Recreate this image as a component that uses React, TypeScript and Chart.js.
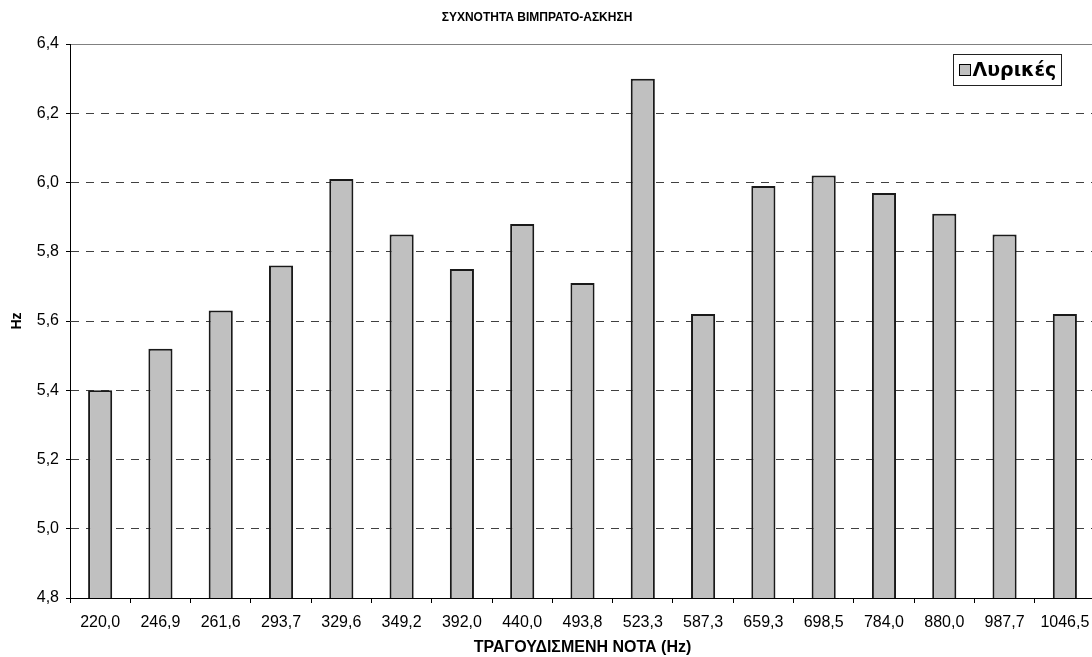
import React, { useEffect, useRef } from 'react';
import { Chart, registerables } from 'chart.js';

Chart.register(...registerables);

// Vibrato rate per sung note (exercise)
const CHART_TITLE = 'ΣΥΧΝΟΤΗΤΑ ΒΙΜΠΡΑΤΟ-ΑΣΚΗΣΗ';
const X_TITLE = 'ΤΡΑΓΟΥΔΙΣΜΕΝΗ ΝΟΤΑ (Hz)';
const Y_TITLE = 'Hz';
const SERIES_NAME = 'Λυρικές';

const NOTES = [
  '220,0', '246,9', '261,6', '293,7', '329,6', '349,2', '392,0', '440,0', '493,8',
  '523,3', '587,3', '659,3', '698,5', '784,0', '880,0', '987,7', '1046,5',
];
const VIBRATO_RATE = [
  5.40, 5.52, 5.63, 5.76, 6.01, 5.85, 5.75, 5.88, 5.71,
  6.30, 5.62, 5.99, 6.02, 5.97, 5.91, 5.85, 5.62,
];

const Y_MIN = 4.8;
const Y_MAX = 6.4;
const Y_STEP = 0.2;

const FONT = '"Liberation Sans", Arial, sans-serif';
const BAR_FILL = '#c0c0c0';

const CANVAS_W = 1100;
const CANVAS_H = 657;

// Chart heading, centred over the whole figure
const headingPlugin = {
  id: 'heading',
  afterDraw(chart: Chart) {
    const { ctx } = chart;
    ctx.save();
    ctx.font = `bold 12px ${FONT}`;
    ctx.fillStyle = '#000';
    ctx.textAlign = 'center';
    ctx.textBaseline = 'middle';
    ctx.fillText(CHART_TITLE, 537, 18);
    ctx.restore();
  },
};

// Boxed legend floating in the upper right of the plot
const boxedLegendPlugin = {
  id: 'boxedLegend',
  afterDraw(chart: Chart) {
    const { ctx } = chart;
    const ds = chart.data.datasets[0];
    const x = 953.5;
    const y = 54.5;
    const w = 108;
    const h = 31;
    ctx.save();
    ctx.fillStyle = '#fff';
    ctx.fillRect(x, y, w, h);
    ctx.strokeStyle = '#222';
    ctx.lineWidth = 1;
    ctx.strokeRect(x, y, w, h);
    ctx.fillStyle = ds.backgroundColor as string;
    ctx.fillRect(x + 6, y + 10, 11, 11);
    ctx.strokeStyle = '#000';
    ctx.strokeRect(x + 6, y + 10, 11, 11);
    ctx.fillStyle = '#000';
    ctx.font = `bold 19px "DejaVu Sans", sans-serif`;
    ctx.textAlign = 'left';
    ctx.textBaseline = 'middle';
    ctx.fillText(String(ds.label), x + 19, y + h / 2 + 1);
    ctx.restore();
  },
};

export default function App() {
  const canvasRef = useRef<HTMLCanvasElement | null>(null);

  useEffect(() => {
    const canvas = canvasRef.current;
    if (!canvas) return;
    const chart = new Chart(canvas, {
      type: 'bar',
      data: {
        labels: NOTES,
        datasets: [
          {
            label: SERIES_NAME,
            data: VIBRATO_RATE,
            backgroundColor: BAR_FILL,
            borderColor: '#1a1a1a',
            borderWidth: 2,
            borderSkipped: 'bottom',
            categoryPercentage: 1,
            barPercentage: 0.4,
          },
        ],
      },
      options: {
        responsive: false,
        animation: false,
        devicePixelRatio: 1,
        layout: { padding: { top: 44, right: 5, left: 0, bottom: 0 } },
        plugins: {
          legend: { display: false },
          title: { display: false },
          tooltip: { enabled: false },
        },
        scales: {
          x: {
            type: 'category',
            offset: true,
            afterFit(scale: any) {
              scale.height = 59;
            },
            grid: {
              offset: true,
              drawOnChartArea: false,
              drawTicks: true,
              tickLength: 5,
              tickColor: '#000',
              tickWidth: 1,
            },
            border: { display: true, color: '#000', width: 1 },
            ticks: {
              color: '#000',
              font: { family: FONT, size: 16 },
              padding: 10,
              maxRotation: 0,
              autoSkip: false,
            },
            title: {
              display: true,
              text: X_TITLE,
              color: '#000',
              font: { family: FONT, size: 16, weight: 'bold' },
              padding: { top: 0, bottom: 0 },
            },
          },
          y: {
            min: Y_MIN,
            max: Y_MAX,
            afterFit(scale: any) {
              scale.width = 70;
            },
            grid: {
              color: (c: any) => (c.tick && Math.abs(c.tick.value - Y_MAX) < 1e-6 ? '#808080' : '#404040'),
              lineWidth: 1,
              drawTicks: true,
              tickLength: 4,
              tickColor: '#000',
              tickWidth: 1,
              tickBorderDash: [],
            },
            border: {
              display: true,
              color: '#000',
              width: 1,
              dash: (c: any) => (c.tick && Math.abs(c.tick.value - Y_MAX) < 1e-6 ? [] : [8, 7]),
            },
            ticks: {
              stepSize: Y_STEP,
              color: '#000',
              font: { family: FONT, size: 16 },
              padding: 7,
              callback: (v: any) => Number(v).toFixed(1).replace('.', ','),
            },
            title: {
              display: true,
              text: Y_TITLE,
              color: '#000',
              font: { family: FONT, size: 14, weight: 'bold' },
              padding: { top: 9, bottom: 0 },
            },
          },
        },
      },
      plugins: [headingPlugin, boxedLegendPlugin],
    });
    return () => chart.destroy();
  }, []);

  return (
    <div
      style={{
        position: 'fixed',
        left: 0,
        top: 0,
        width: 1092,
        height: 657,
        overflow: 'hidden',
        background: '#fff',
      }}
    >
      <canvas
        ref={canvasRef}
        width={CANVAS_W}
        height={CANVAS_H}
        style={{ display: 'block', width: CANVAS_W, height: CANVAS_H }}
      />
    </div>
  );
}
